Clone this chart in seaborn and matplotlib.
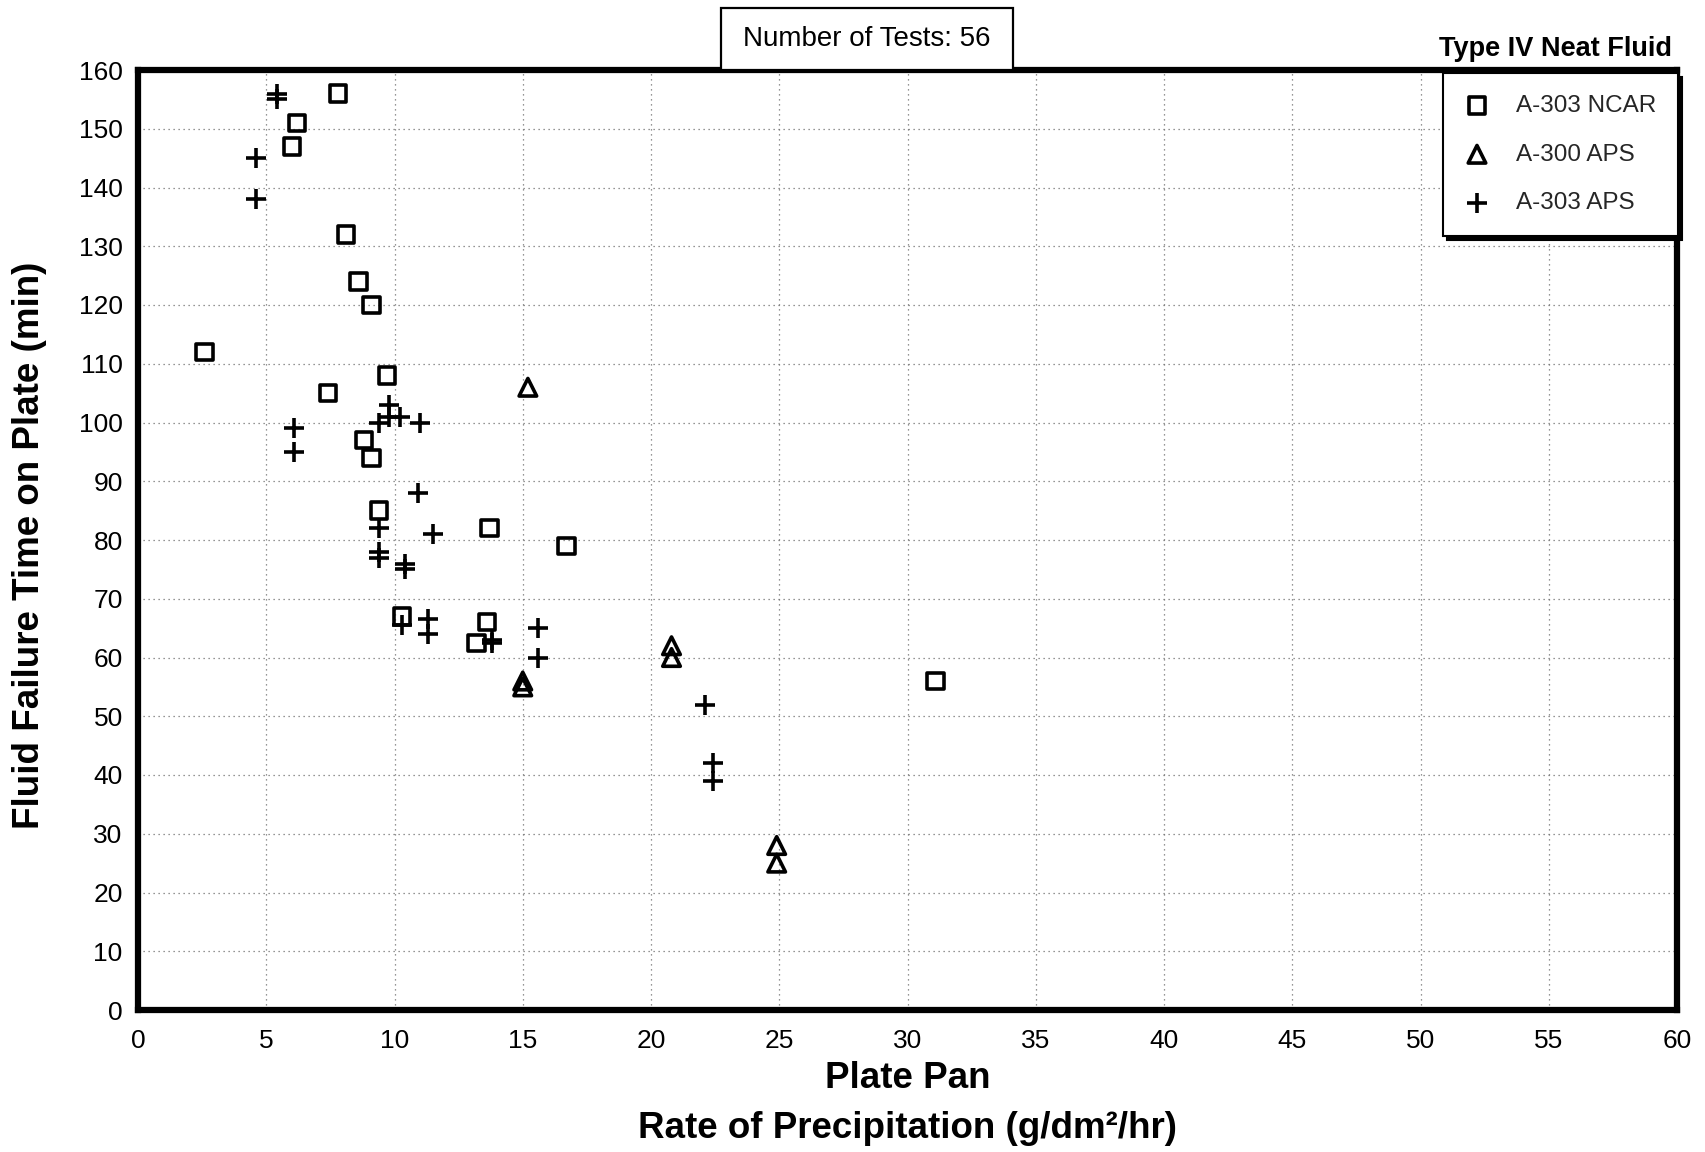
import matplotlib
matplotlib.use("Agg")
import matplotlib.pyplot as plt
from matplotlib.patches import Rectangle
import numpy as np
import pandas as pd
import seaborn as sns

# ---------------- data ----------------
series_names = ["A-303 NCAR", "A-300 APS", "A-303 APS"]

ncar_x = [7.8, 6.2, 6.0, 8.1, 8.6, 9.1, 2.6, 9.7, 7.4, 8.8, 9.1, 9.4, 13.7, 16.7, 10.3, 13.6, 13.2, 31.1]
ncar_y = [156, 151, 147, 132, 124, 120, 112, 108, 105, 97, 94, 85, 82, 79, 67, 66, 62.5, 56]

aps300_x = [15.2, 15.0, 15.0, 20.8, 20.8, 24.9, 24.9]
aps300_y = [106, 56, 55, 62, 60, 28, 25]

aps303_x = [5.4, 5.4, 4.6, 4.6, 9.8, 9.8, 10.2, 9.4, 11.0, 6.1, 6.1, 10.9, 9.4, 11.5,
            9.4, 9.4, 10.4, 10.4, 10.3, 11.3, 11.3, 13.8, 13.8, 15.6, 15.6, 22.1, 22.4, 22.4]
aps303_y = [156, 155, 145, 138, 103, 101, 101, 100, 100, 99, 95, 88, 82, 81,
            78, 77, 76, 75, 65.5, 66.5, 64, 63, 62.5, 65, 60, 52, 42, 39]

x_ticks = list(range(0, 61, 5))
y_ticks = list(range(0, 161, 10))

title_text = "Type IV Neat Fluid"
count_text = "Number of Tests: 56"
y_label = "Fluid Failure Time on Plate (min)"
x_label_1 = "Plate Pan"
x_label_2 = "Rate of Precipitation (g/dm²/hr)"

# ---------------- style ----------------
sns.set_theme(style="white")
plt.rcParams["font.family"] = ["Liberation Sans", "DejaVu Sans"]

W, H = 1705, 1152
fig = plt.figure(figsize=(W / 100, H / 100), dpi=100)
L, R, T, B = 138, 1677, 70, 1010
ax = fig.add_axes([L / W, 1 - B / H, (R - L) / W, (B - T) / H])

df_ncar = pd.DataFrame({"x": ncar_x, "y": ncar_y})
df_300 = pd.DataFrame({"x": aps300_x, "y": aps300_y})
df_303 = pd.DataFrame({"x": aps303_x, "y": aps303_y})

sns.scatterplot(data=df_ncar, x="x", y="y", marker="s", s=140, facecolor="none",
                edgecolor="black", linewidth=2.6, ax=ax, label=series_names[0], zorder=3)
sns.scatterplot(data=df_300, x="x", y="y", marker="^", s=160, facecolor="none",
                edgecolor="black", linewidth=2.6, ax=ax, label=series_names[1], zorder=3)
sns.scatterplot(data=df_303, x="x", y="y", marker="+", s=190, color="black",
                linewidth=2.6, ax=ax, label=series_names[2], zorder=3)

ax.set_xlim(0, 60)
ax.set_ylim(0, 160)
ax.set_xticks(x_ticks)
ax.set_yticks(y_ticks)
ax.set_xlabel("")
ax.set_ylabel("")
ax.grid(True, linestyle=(0, (1, 3)), color="0.45", linewidth=0.9)
ax.set_axisbelow(True)
for sp in ax.spines.values():
    sp.set_visible(True)
    sp.set_color("black")
    sp.set_linewidth(4.5)
ax.tick_params(axis="both", which="major", labelsize=19, length=4, width=1.5,
               color="black", direction="out", pad=7, labelcolor="black")
ax.tick_params(axis="x", pad=10)

leg = ax.legend(loc="upper right", bbox_to_anchor=(1678 / W, 1 - 73 / H),
                bbox_transform=fig.transFigure, borderaxespad=0, fontsize=17.5,
                frameon=True, fancybox=False, edgecolor="black", framealpha=1,
                scatterpoints=1, handlelength=1.0, handletextpad=1.1,
                labelspacing=1.1, borderpad=0.9,
                shadow={"ox": 3, "oy": -3, "facecolor": "black", "edgecolor": "black", "alpha": 1})
leg.get_frame().set_linewidth(1.5)

# Number of tests box
bx0, by0, bx1, by1 = 721, 8, 1013, 70
fig.patches.append(Rectangle((bx0 / W, 1 - by1 / H), (bx1 - bx0) / W, (by1 - by0) / H,
                             transform=fig.transFigure, facecolor="white",
                             edgecolor="black", linewidth=1.6, zorder=5))
fig.text((bx0 + bx1) / 2 / W, 1 - 39 / H, count_text, ha="center", va="center",
         fontsize=20, color="black", zorder=6)

fig.text(1672 / W, 1 - 49 / H, title_text, ha="right", va="center", fontsize=19.5,
         fontweight="bold", color="black")

fig.text(30 / W, 1 - 545 / H, y_label, rotation=90, ha="center", va="center",
         fontsize=26.5, fontweight="bold", color="black")
fig.text((L + R) / 2 / W, 1 - 1079 / H, x_label_1, ha="center", va="center",
         fontsize=26.5, fontweight="bold", color="black")
fig.text((L + R) / 2 / W, 1 - 1128 / H, x_label_2, ha="center", va="center",
         fontsize=26.5, fontweight="bold", color="black")

fig.savefig("out.png", dpi=100, facecolor="white")
